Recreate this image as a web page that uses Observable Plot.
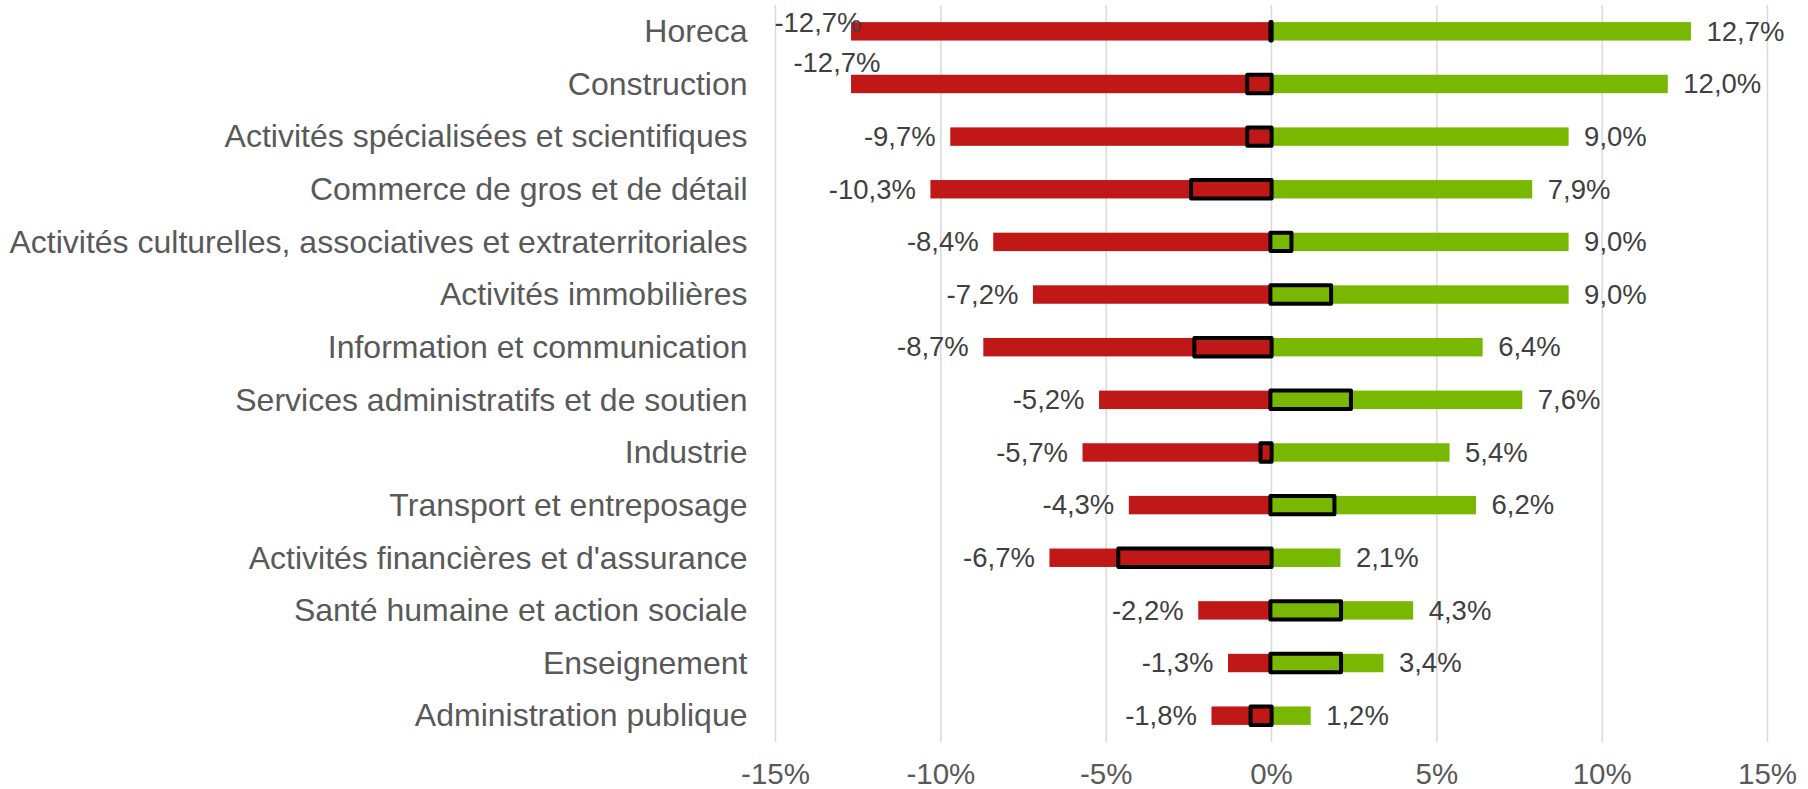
<!DOCTYPE html>
<html>
<head>
<meta charset="utf-8">
<script src="https://cdn.jsdelivr.net/npm/d3@7"></script>
<script src="https://cdn.jsdelivr.net/npm/@observablehq/plot@0.6"></script>
<style>
  html, body { margin: 0; padding: 0; background: #fff; }
  #chart svg { display: block; }
</style>
</head>
<body>
<div id="chart"></div>
<script>
const categories = [
  "Horeca",
  "Construction",
  "Activités spécialisées et scientifiques",
  "Commerce de gros et de détail",
  "Activités culturelles, associatives et extraterritoriales",
  "Activités immobilières",
  "Information et communication",
  "Services administratifs et de soutien",
  "Industrie",
  "Transport et entreposage",
  "Activités financières et d'assurance",
  "Santé humaine et action sociale",
  "Enseignement",
  "Administration publique"
];
const decreases = [-12.7, -12.7, -9.7, -10.3, -8.4, -7.2, -8.7, -5.2, -5.7, -4.3, -6.7, -2.2, -1.3, -1.8];
const increases = [12.7, 12.0, 9.0, 7.9, 9.0, 9.0, 6.4, 7.6, 5.4, 6.2, 2.1, 4.3, 3.4, 1.2];
const net = [0.0, -0.7, -0.7, -2.4, 0.6, 1.8, -2.3, 2.4, -0.3, 1.9, -4.6, 2.1, 2.1, -0.6];
const xTicks = [-15, -10, -5, 0, 5, 10, 15];

const rows = categories.map((c, i) => ({cat: c, dec: decreases[i], inc: increases[i], net: net[i]}));
const fmt = v => v.toFixed(1).replace(".", ",") + "%";

const RED = "#c01717";
const GREEN = "#78b800";
const FONT = "'Liberation Sans', Arial, sans-serif";

const plot = Plot.plot({
  width: 1808,
  height: 789,
  marginLeft: 775,
  marginRight: 41,
  marginTop: 5,
  marginBottom: 47,
  style: {fontFamily: FONT, background: "#fff"},
  x: {domain: [-15, 15]},
  y: {domain: categories, paddingInner: 0.65, paddingOuter: 0.325, round: false},
  marks: [
    Plot.ruleX(xTicks, {stroke: "#d9d9d9", strokeWidth: 1.5}),
    Plot.barX(rows, {y: "cat", x1: 0, x2: "dec", fill: RED}),
    Plot.barX(rows, {y: "cat", x1: 0, x2: "inc", fill: GREEN}),
    Plot.barX(rows, {y: "cat", x1: 0, x2: "net", fill: "none", stroke: "#000", strokeWidth: 4,
      strokeLinejoin: "round", insetLeft: -0.6, insetRight: -0.6}),
    // decrease labels
    Plot.text(rows.filter((d, i) => i > 1), {y: "cat", x: "dec", text: d => fmt(d.dec),
      textAnchor: "end", dx: -15, fontSize: 27.5, fill: "#404040"}),
    Plot.text(rows.filter((d, i) => i === 0), {y: "cat", x: "dec", text: d => fmt(d.dec),
      textAnchor: "end", dx: 10, dy: -9, fontSize: 27.5, fill: "#404040"}),
    Plot.text(rows.filter((d, i) => i === 1), {y: "cat", x: "dec", text: d => fmt(d.dec),
      textAnchor: "end", dx: 29, dy: -21, fontSize: 27.5, fill: "#404040"}),
    // increase labels
    Plot.text(rows, {y: "cat", x: "inc", text: d => fmt(d.inc),
      textAnchor: "start", dx: 15, fontSize: 27.5, fill: "#404040"}),
    Plot.axisY({tickSize: 0, tickPadding: 28, fontSize: 32, fill: "#595959", label: null}),
    Plot.axisX({ticks: xTicks, tickSize: 0, tickPadding: 21, fontSize: 29.5, fill: "#595959",
      tickFormat: d => d + "%", label: null})
  ]
});
document.getElementById("chart").appendChild(plot);
</script>
</body>
</html>
